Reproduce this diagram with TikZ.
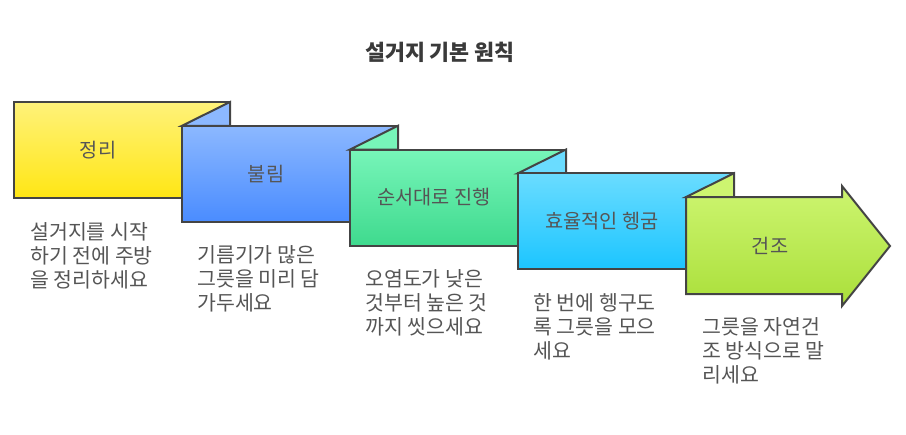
\documentclass[tikz,border=0pt]{standalone}
\usepackage{fontspec}
\setmainfont{Noto Sans CJK KR}
\usepackage{tikz}
\usetikzlibrary{positioning}
\definecolor{edgegray}{HTML}{444444}
\definecolor{textgray}{HTML}{555555}
\definecolor{titlegray}{HTML}{3A3A3A}
\definecolor{yellowtop}{HTML}{FFF27A}
\definecolor{yellowbot}{HTML}{FFE614}
\definecolor{bluetop}{HTML}{8CB8FF}
\definecolor{bluebot}{HTML}{4A8CFF}
\definecolor{greentop}{HTML}{77F5B9}
\definecolor{greenbot}{HTML}{3FDA8E}
\definecolor{cyantop}{HTML}{6ADCFF}
\definecolor{cyanbot}{HTML}{1CC5FF}
\definecolor{limetop}{HTML}{CDF570}
\definecolor{limebot}{HTML}{AADF3A}

\begin{document}
\begin{tikzpicture}[
  x=0.75pt, y=-0.75pt,
  panel/.style={draw=edgegray, line width=1.5pt, line join=miter},
  steplabel/.style={font=\fontsize{14.8}{17}\selectfont, text=textgray},
  desc/.style={anchor=north west, align=left, inner sep=0pt, font=\fontsize{15.4}{18.2}\selectfont, text=textgray},
  headline/.style={font=\fontsize{16.3}{19}\selectfont\bfseries, text=titlegray}
]
\useasboundingbox (0,0) rectangle (906,435);

% folded panels
\foreach \i/\ctop/\cbot in {0/yellowtop/yellowbot, 1/bluetop/bluebot, 2/greentop/greenbot, 3/cyantop/cyanbot} {
  \pgfmathsetmacro\xa{14+168*\i}
  \pgfmathsetmacro\ya{102+23.75*\i}
  \ifnum\i>0
    \filldraw [panel, fill=\ctop] (\xa,\ya) -- (\xa+48,\ya-23.75) -- (\xa+48,\ya) -- cycle;
  \fi
  \draw [panel, top color=\ctop, bottom color=\cbot] (\xa,\ya) rectangle (\xa+216,\ya+96);
}

% last step as arrow
\filldraw [panel, fill=limetop] (686,197) -- (734,173.25) -- (734,197) -- cycle;
\draw [panel, top color=limetop, bottom color=limebot]
  (686,197) -- (842,197) -- (842,186) -- (890,246) -- (842,306) -- (842,294) -- (686,294) -- cycle;

\node [headline] (title) at (440,52) {설거지 기본 원칙};

\node [steplabel] (tidy) at (98,150) {정리};
\node [steplabel] (soak) at (266,174) {불림};
\node [steplabel] (order) at (434,197) {순서대로 진행};
\node [steplabel] (rinse) at (602,221) {효율적인 헹굼};
\node [steplabel] (dry) at (770,246) {건조};

\node [desc] (tidytext) at (30,222) {설거지를 시작\\하기 전에 주방\\을 정리하세요};
\node [desc] (soaktext) at (197,245) {기름기가 많은\\그릇을 미리 담\\가두세요};
\node [desc] (ordertext) at (365,269) {오염도가 낮은\\것부터 높은 것\\까지 씻으세요};
\node [desc] (rinsetext) at (533,293) {한 번에 헹구도\\록 그릇을 모으\\세요};
\node [desc] (drytext) at (702,317) {그릇을 자연건\\조 방식으로 말\\리세요};
\end{tikzpicture}
\end{document}
